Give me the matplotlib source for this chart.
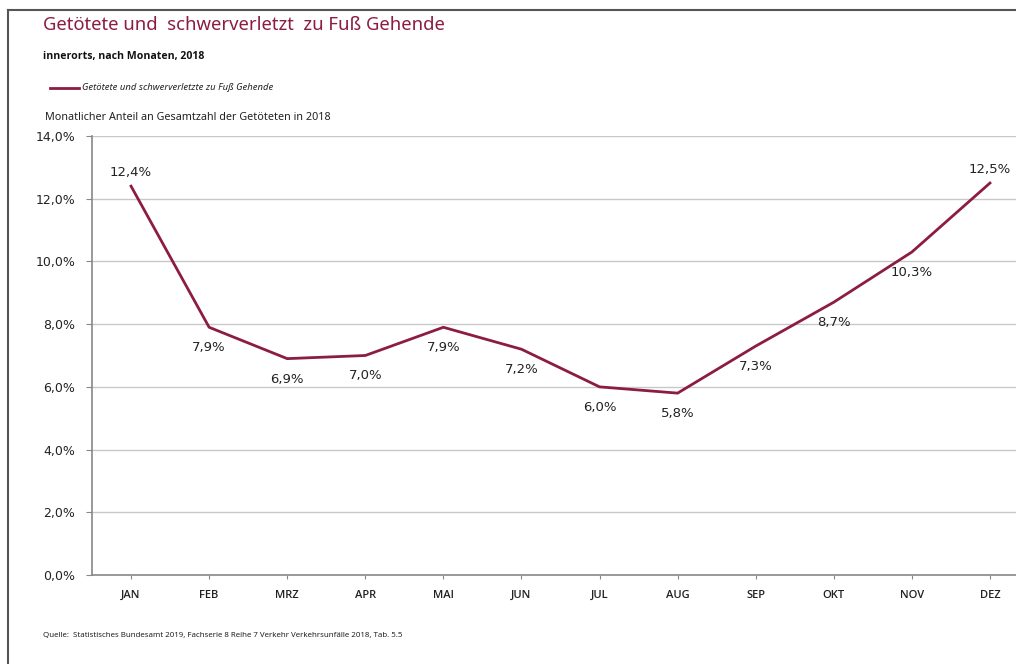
import matplotlib.pyplot as plt
from matplotlib.ticker import FuncFormatter, MultipleLocator
from matplotlib.lines import Line2D

months = ['JAN', 'FEB', 'MRZ', 'APR', 'MAI', 'JUN', 'JUL', 'AUG', 'SEP', 'OKT', 'NOV', 'DEZ']
anteil = [12.4, 7.9, 6.9, 7.0, 7.9, 7.2, 6.0, 5.8, 7.3, 8.7, 10.3, 12.5]
label_above = ['JAN', 'DEZ']

red = '#8c1c44'
W, H = 1016, 664

fig = plt.figure(figsize=(W / 100, H / 100), dpi=100)
ax = fig.add_axes([92 / W, 1 - 575 / H, (1029 - 92) / W, (575 - 136) / H])

x = list(range(len(months)))
ax.plot(x, anteil, color=red, lw=2, solid_joinstyle='round')
for i, (m, v) in enumerate(zip(months, anteil)):
    s = ('%.1f%%' % v).replace('.', ',')
    if m in label_above:
        ax.annotate(s, (i, v), xytext=(0, 5), textcoords='offset points',
                    ha='center', va='bottom', fontsize=9.5, family='DejaVu Sans', color='#222222')
    else:
        ax.annotate(s, (i, v), xytext=(0, -10), textcoords='offset points',
                    ha='center', va='top', fontsize=9.5, family='DejaVu Sans', color='#222222')

ax.set_xlim(-0.5, 11.5)
ax.set_ylim(0, 14)
ax.yaxis.set_major_locator(MultipleLocator(2))
ax.yaxis.set_major_formatter(FuncFormatter(lambda v, p: ('%.1f%%' % v).replace('.', ',')))
ax.set_xticks(x)
ax.set_xticklabels(months, fontsize=8, family='Open Sans', weight='semibold', color='#222222')
for t in ax.get_yticklabels():
    t.set_fontsize(9)
    t.set_color('#222222')
ax.tick_params(axis='y', length=4, color='#888888', pad=8)
ax.tick_params(axis='x', length=3, color='#888888', pad=8)
ax.grid(axis='y', color='#c8c8c8', lw=1)
ax.set_axisbelow(True)
for sp in ['top', 'right']:
    ax.spines[sp].set_visible(False)
for sp in ['left', 'bottom']:
    ax.spines[sp].set_color('#888888')
    ax.spines[sp].set_linewidth(1.2)

# headings
fig.text(43 / W, 1 - 25 / H, 'Getötete und  schwerverletzt  zu Fuß Gehende', color=red,
         fontsize=13.3, family='Noto Sans', va='center')
fig.text(43 / W, 1 - 56 / H, 'innerorts, nach Monaten, 2018', color='#111111',
         fontsize=7.6, family='Open Sans', weight='bold', va='center')
fig.add_artist(Line2D([50 / W, 79 / W], [1 - 88 / H, 1 - 88 / H], color=red, lw=2))
fig.text(82 / W, 1 - 88 / H, 'Getötete und schwerverletzte zu Fuß Gehende', color='#222222',
         fontsize=6.8, family='Noto Sans', style='italic', va='center')
fig.text(45 / W, 1 - 117 / H, 'Monatlicher Anteil an Gesamtzahl der Getöteten in 2018', color='#222222',
         fontsize=7.8, family='Noto Sans', va='center')
fig.text(43 / W, 1 - 635 / H,
         'Quelle:  Statistisches Bundesamt 2019, Fachserie 8 Reihe 7 Verkehr Verkehrsunfälle 2018, Tab. 5.5',
         color='#222222', fontsize=5.7, family='Noto Sans', va='center')

# page frame (left and top)
fig.add_artist(Line2D([8 / W, 8 / W], [0, 1 - 10 / H], color='#555555', lw=1.5))
fig.add_artist(Line2D([8 / W, 1], [1 - 10 / H, 1 - 10 / H], color='#555555', lw=1.5))

fig.savefig('out.png', dpi=100)
